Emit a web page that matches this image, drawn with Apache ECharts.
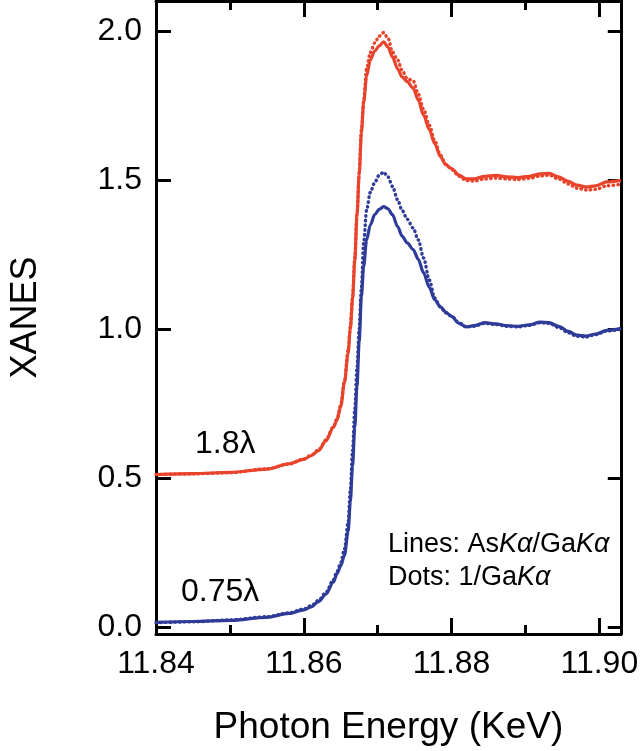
<!DOCTYPE html>
<html>
<head>
<meta charset="utf-8">
<script src="https://cdn.jsdelivr.net/npm/echarts@6/dist/echarts.min.js"></script>
<style>
  html, body { margin: 0; padding: 0; background: #fff; }
  #chart { width: 640px; height: 751px; }
</style>
</head>
<body>
<div id="chart"></div>
<script>
// photon energy, KeV
var energy = [11.840, 11.845, 11.850, 11.855, 11.858, 11.860, 11.861, 11.862, 11.863, 11.864,
  11.8645, 11.865, 11.8655, 11.866, 11.8663, 11.8666, 11.8669, 11.8672, 11.8675, 11.8678,
  11.8681, 11.8685, 11.869, 11.8696, 11.8702, 11.8708, 11.8714, 11.872, 11.8727, 11.8733,
  11.874, 11.8748, 11.8755, 11.8762, 11.877, 11.8777, 11.8785, 11.8792, 11.880, 11.881,
  11.882, 11.883, 11.8845, 11.886, 11.8875, 11.889, 11.8905, 11.892, 11.8932, 11.8945,
  11.8958, 11.897, 11.8982, 11.8995, 11.901, 11.9029];

// 1.8 lambda, lines = AsKa/GaKa
var red_lines = [0.512, 0.515, 0.519, 0.530, 0.548, 0.563, 0.575, 0.592, 0.625, 0.670,
  0.695, 0.74, 0.82, 0.92, 1.00, 1.10, 1.23, 1.38, 1.52, 1.66,
  1.76, 1.85, 1.905, 1.935, 1.952, 1.966, 1.948, 1.915, 1.875, 1.848,
  1.832, 1.81, 1.77, 1.72, 1.67, 1.625, 1.58, 1.553, 1.54, 1.518,
  1.505, 1.505, 1.514, 1.517, 1.512, 1.510, 1.514, 1.522, 1.524, 1.512,
  1.497, 1.484, 1.478, 1.482, 1.495, 1.500];
// 1.8 lambda, dots = 1/GaKa
var red_dots = [0.512, 0.514, 0.518, 0.531, 0.547, 0.564, 0.577, 0.595, 0.628, 0.672,
  0.700, 0.745, 0.825, 0.93, 1.01, 1.11, 1.24, 1.39, 1.53, 1.67,
  1.77, 1.875, 1.93, 1.962, 1.985, 1.997, 1.978, 1.932, 1.905, 1.87,
  1.842, 1.835, 1.79, 1.74, 1.685, 1.635, 1.585, 1.555, 1.537, 1.514,
  1.500, 1.498, 1.505, 1.508, 1.505, 1.503, 1.507, 1.515, 1.518, 1.505,
  1.488, 1.474, 1.468, 1.470, 1.482, 1.487];

// 0.75 lambda
var blue_lines = [0.015, 0.018, 0.022, 0.032, 0.045, 0.057, 0.067, 0.085, 0.110, 0.150,
  0.178, 0.205, 0.24, 0.32, 0.42, 0.54, 0.67, 0.81, 0.96, 1.11,
  1.21, 1.30, 1.35, 1.385, 1.403, 1.412, 1.405, 1.385, 1.345, 1.313,
  1.29, 1.268, 1.235, 1.19, 1.14, 1.10, 1.075, 1.058, 1.043, 1.02,
  1.008, 1.012, 1.022, 1.018, 1.012, 1.010, 1.015, 1.024, 1.022, 1.010,
  0.993, 0.980, 0.977, 0.984, 0.996, 1.003];
var blue_dots = [0.014, 0.017, 0.023, 0.034, 0.047, 0.060, 0.071, 0.089, 0.116, 0.158,
  0.186, 0.215, 0.26, 0.35, 0.46, 0.59, 0.73, 0.87, 1.00, 1.14,
  1.29, 1.40, 1.46, 1.493, 1.518, 1.528, 1.512, 1.48, 1.435, 1.40,
  1.37, 1.34, 1.30, 1.24, 1.165, 1.105, 1.075, 1.055, 1.044, 1.022,
  1.008, 1.010, 1.020, 1.016, 1.010, 1.008, 1.013, 1.022, 1.020, 1.006,
  0.988, 0.976, 0.974, 0.982, 0.994, 1.000];

var xMajor = [11.84, 11.86, 11.88, 11.90];
var xMinor = [11.85, 11.87, 11.89];
var yTicks = [0.0, 0.5, 1.0, 1.5, 2.0];

var RED = '#e8432b';
var BLUE = '#2f3b98';
var FONT = 'Liberation Sans, Arial, Helvetica, sans-serif';

function pairs(xs, ys) {
  var out = [];
  for (var i = 0; i < xs.length; i++) out.push([xs[i], ys[i]]);
  return out;
}

var dom = document.getElementById('chart');
var myChart = echarts.init(dom, null, {renderer: 'canvas'});

var xBase = {
  type: 'value',
  min: 11.84,
  max: 11.9029,
  splitLine: {show: false},
  axisLine: {show: false, onZero: false}
};
function xAxisOf(pos, ticks, len, withLabels, withLine) {
  return Object.assign({}, xBase, {
    position: pos,
    axisLine: {show: withLine, onZero: false, lineStyle: {color: '#000', width: 3}},
    axisTick: {show: true, inside: true, length: len, customValues: ticks,
      lineStyle: {color: '#000', width: 3}},
    axisLabel: {show: withLabels, customValues: ticks, margin: 14,
      color: '#000', fontSize: 32, fontFamily: FONT,
      formatter: function (v) { return v.toFixed(2); }}
  });
}

var xAxes = [
  xAxisOf('bottom', xMajor, 16, true, true),
  xAxisOf('bottom', xMinor, 9, false, false),
  xAxisOf('top', xMajor, 16, false, true),
  xAxisOf('top', xMinor, 9, false, false)
];
xAxes[0].name = 'Photon Energy (KeV)';
xAxes[0].nameLocation = 'middle';
xAxes[0].nameGap = 75;
xAxes[0].nameTextStyle = {color: '#000', fontSize: 37, fontFamily: FONT};

function yAxisOf(pos, withLabels) {
  return {
    type: 'value',
    position: pos,
    min: -0.024,
    max: 2.103,
    splitLine: {show: false},
    axisLine: {show: true, onZero: false, lineStyle: {color: '#000', width: 3}},
    axisTick: {show: true, inside: true, length: pos === 'left' ? 15 : 13,
      customValues: yTicks, lineStyle: {color: '#000', width: 3}},
    axisLabel: {show: withLabels, customValues: yTicks, margin: 14,
      color: '#000', fontSize: 32, fontFamily: FONT,
      formatter: function (v) { return v.toFixed(1); }}
  };
}
var yAxes = [yAxisOf('left', true), yAxisOf('right', false)];
yAxes[0].name = 'XANES';
yAxes[0].nameLocation = 'middle';
yAxes[0].nameGap = 112;
yAxes[0].nameTextStyle = {color: '#000', fontSize: 36, fontFamily: FONT};

function solid(name, ys, color) {
  return {
    name: name, type: 'line', xAxisIndex: 0, yAxisIndex: 0,
    data: pairs(energy, ys), showSymbol: false, symbol: 'none',
    smooth: 0.3, smoothMonotone: 'x',
    lineStyle: {color: color, width: 3.2}, z: 3
  };
}
function dotted(name, ys, color) {
  return {
    name: name, type: 'line', xAxisIndex: 0, yAxisIndex: 0,
    data: pairs(energy, ys), showSymbol: false, symbol: 'none',
    smooth: 0.3, smoothMonotone: 'x',
    lineStyle: {color: color, width: 3.4, type: [0.5, 4.2], cap: 'round'}, z: 2
  };
}

var option = {
  backgroundColor: '#fff',
  animation: false,
  grid: {left: 130, right: 18, top: 1, bottom: 106, containLabel: false},
  xAxis: xAxes,
  yAxis: yAxes,
  series: [
    dotted('1.8λ dots', red_dots, RED),
    solid('1.8λ lines', red_lines, RED),
    dotted('0.75λ dots', blue_dots, BLUE),
    solid('0.75λ lines', blue_lines, BLUE)
  ],
  graphic: [
    {type: 'text', left: 195, top: 428,
      style: {text: '1.8λ', fontSize: 32, fontFamily: FONT, fill: '#000'}},
    {type: 'text', left: 181, top: 576,
      style: {text: '0.75λ', fontSize: 32, fontFamily: FONT, fill: '#000'}},
    {type: 'text', left: 388, top: 528,
      style: {
        text: '{n|Lines: As}{i|Kα}{n|/Ga}{i|Kα}\n{n|Dots: 1/Ga}{i|Kα}',
        lineHeight: 33,
        rich: {
          n: {fontSize: 27, fontFamily: FONT, fill: '#000', lineHeight: 33},
          i: {fontSize: 27, fontFamily: FONT, fill: '#000', fontStyle: 'italic', lineHeight: 33}
        }
      }}
  ]
};

if (option && typeof option === "object") {
  myChart.setOption(option, true);
}
</script>
</body>
</html>
